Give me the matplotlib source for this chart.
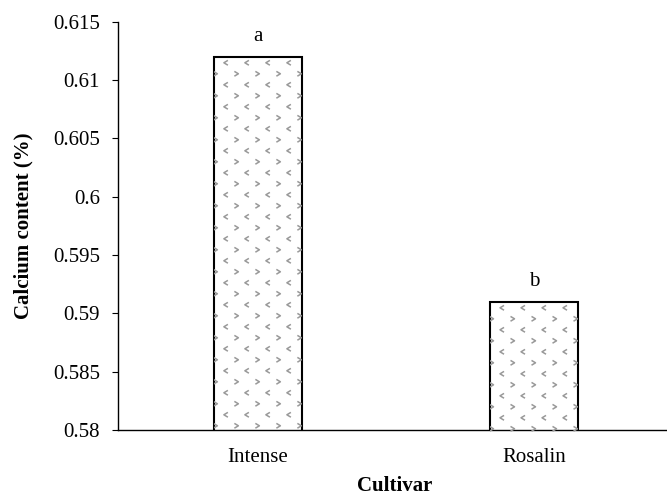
import numpy as np
import matplotlib.pyplot as plt
from matplotlib.path import Path

# veriler
cultivars = ['Intense', 'Rosalin']
calcium = [0.612, 0.591]
letters = ['a', 'b']
yticks = [0.58, 0.585, 0.59, 0.595, 0.6, 0.605, 0.61, 0.615]
ytick_labels = ['0.58', '0.585', '0.59', '0.595', '0.6', '0.605', '0.61', '0.615']

plt.rcParams['font.family'] = ['Liberation Serif', 'DejaVu Serif']

fig = plt.figure(figsize=(6.67, 4.95), dpi=100)
ax = fig.add_axes([0.177, 0.131, 0.828, 0.825])

x = np.arange(len(cultivars))
bars = ax.bar(x, calcium, width=0.32, color='white', edgecolor='black',
              linewidth=1.5, zorder=2)

ax.set_ylim(0.58, 0.615)
ax.set_xlim(-0.507, 1.493)
ax.set_yticks(yticks)
ax.set_yticklabels(ytick_labels)
ax.set_xticks(x)
ax.set_xticklabels(cultivars)
ax.tick_params(axis='y', direction='out', length=4, labelsize=15, pad=9)
ax.tick_params(axis='x', length=0, labelsize=15, pad=12.5)
ax.spines['top'].set_visible(False)
ax.spines['right'].set_visible(False)
ax.spines['left'].set_linewidth(1)
ax.spines['bottom'].set_linewidth(1)

ax.set_xlabel('Cultivar', fontsize=15, fontweight='bold', labelpad=6.5)
ax.set_ylabel('Calcium content (%)', fontsize=15, fontweight='bold', labelpad=14)

# chevron desen (< ve >)
left_mark = Path([(0.5, 0.6), (-0.5, 0), (0.5, -0.6)],
                 [Path.MOVETO, Path.LINETO, Path.LINETO])
right_mark = Path([(-0.5, 0.6), (0.5, 0), (-0.5, -0.6)],
                  [Path.MOVETO, Path.LINETO, Path.LINETO])

fig.canvas.draw()
inv = ax.transData.inverted()
for b in bars:
    x0, y0 = ax.transData.transform((b.get_x(), 0.58))
    x1, y1 = ax.transData.transform((b.get_x() + b.get_width(), b.get_height()))
    rows_l, rows_r = [], []
    k = 0
    yy = y1 - 6
    while yy > y0:
        off = 0 if k % 2 == 0 else 10.5
        xx = x0 + 12 + off - 21
        while xx < x1 + 5:
            (rows_l if k % 2 == 0 else rows_r).append((xx, yy))
            xx += 21
        yy -= 11
        k += 1
    for pts, mk in ((rows_l, left_mark), (rows_r, right_mark)):
        d = inv.transform(np.array(pts))
        sc = ax.scatter(d[:, 0], d[:, 1], marker=mk, s=12, facecolors='none',
                        edgecolors='#999999', linewidths=1.1, zorder=3)
        sc.set_clip_path(b)

for xi, v, t in zip(x, calcium, letters):
    ax.annotate(t, (xi, v), xytext=(0, 11.5), textcoords='offset points',
                ha='center', va='baseline', fontsize=15)

fig.savefig('out.png', dpi=100)
